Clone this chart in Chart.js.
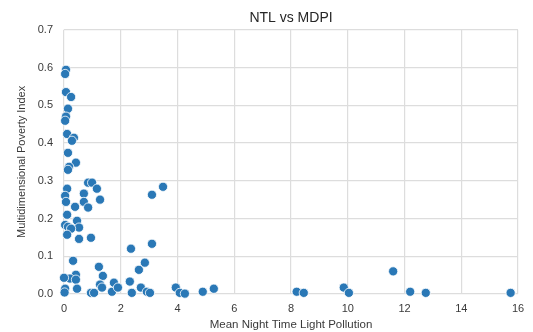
<!DOCTYPE html>
<html>
<head>
<meta charset="utf-8">
<script src="https://cdn.jsdelivr.net/npm/chart.js@4.4.1/dist/chart.umd.min.js"></script>
<style>
  html, body { margin: 0; padding: 0; background: #fff; }
  #wrap { width: 533px; height: 332px; }
</style>
</head>
<body>
<div id="wrap"><canvas id="ntlChart"></canvas></div>
<script>
// Mean night time light pollution (x) per district
const ntl = [
    0.07, 0.04, 0.07, 0.25, 0.14, 0.07, 0.04, 0.11, 0.35, 0.28,
    0.14, 0.42, 0.18, 0.14, 0.85, 0.99, 1.16, 0.11, 0.70, 0.04,
    1.27, 0.07, 0.70, 0.39, 0.85, 0.11, 0.46, 0.04, 0.14, 0.53,
    0.25, 0.11, 0.53, 0.95, 3.49, 3.10, 3.10, 2.36, 0.32, 1.23,
    2.85, 2.64, 0.42, 1.37, 0.21, 0.42, 0.00, 0.04, 0.46, 1.27,
    1.34, 1.69, 0.95, 1.06, 1.76, 2.32, 1.90, 2.71, 2.92, 3.03,
    2.39, 3.94, 4.08, 4.26, 4.89, 5.28, 8.20, 8.45, 9.86, 10.04,
    11.60, 12.20, 12.75, 15.74, 0.02
];
// Multidimensional poverty index (y)
const mpi = [
    0.594, 0.583, 0.535, 0.522, 0.491, 0.470, 0.459, 0.424, 0.414, 0.406,
    0.374, 0.348, 0.337, 0.329, 0.295, 0.295, 0.279, 0.279, 0.266, 0.260,
    0.250, 0.244, 0.244, 0.231, 0.229, 0.210, 0.194, 0.183, 0.178, 0.176,
    0.173, 0.157, 0.146, 0.149, 0.284, 0.263, 0.133, 0.120, 0.088, 0.072,
    0.083, 0.064, 0.051, 0.048, 0.041, 0.038, 0.043, 0.014, 0.014, 0.025,
    0.017, 0.006, 0.003, 0.003, 0.030, 0.033, 0.017, 0.017, 0.006, 0.003,
    0.003, 0.017, 0.003, 0.001, 0.006, 0.014, 0.006, 0.003, 0.017, 0.003,
    0.060, 0.006, 0.003, 0.003, 0.004
];

const xTicks = [0, 2, 4, 6, 8, 10, 12, 14, 16];
const yTicks = [0.0, 0.1, 0.2, 0.3, 0.4, 0.5, 0.6, 0.7];

const points = ntl.map(function(x, i) { return { x: x, y: mpi[i] }; });

Chart.defaults.font.family = '"Liberation Sans", Arial, sans-serif';
Chart.defaults.color = '#3a3a3a';

const ctx = document.getElementById('ntlChart').getContext('2d');
new Chart(ctx, {
    type: 'scatter',
    data: {
        datasets: [{
            label: 'MDPI',
            data: points,
            backgroundColor: '#2a78b6',
            borderColor: '#ffffff',
            borderWidth: 0.8,
            pointRadius: 4.6,
            pointHoverRadius: 4.6,
            clip: false
        }]
    },
    options: {
        responsive: true,
        maintainAspectRatio: false,
        animation: false,
        layout: {
            padding: { left: 15, right: 15, top: 0, bottom: 0 }
        },
        scales: {
            x: {
                type: 'linear',
                min: xTicks[0],
                max: xTicks[xTicks.length - 1],
                afterBuildTicks: function(axis) {
                    axis.ticks = xTicks.map(function(v) { return { value: v }; });
                },
                afterFit: function(axis) { axis.height = 38; },
                grid: { color: '#dddddd', lineWidth: 1.2, drawTicks: false },
                border: { display: false },
                ticks: {
                    padding: 8,
                    font: { size: 11 },
                    callback: function(v) { return String(v); }
                },
                title: {
                    display: true,
                    text: 'Mean Night Time Light Pollution',
                    font: { size: 11.5 },
                    padding: { top: 0, bottom: 0 }
                }
            },
            y: {
                type: 'linear',
                min: yTicks[0],
                max: yTicks[yTicks.length - 1],
                afterBuildTicks: function(axis) {
                    axis.ticks = yTicks.map(function(v) { return { value: v }; });
                },
                afterFit: function(axis) { axis.width = 49; },
                grid: { color: '#dddddd', lineWidth: 1.2, drawTicks: false },
                border: { display: false },
                ticks: {
                    padding: 11,
                    font: { size: 11 },
                    callback: function(v) { return v.toFixed(1); }
                },
                title: {
                    display: true,
                    text: 'Multidimensional Poverty Index',
                    font: { size: 11 },
                    padding: { top: 0, bottom: 0 }
                }
            }
        },
        plugins: {
            legend: { display: false },
            tooltip: { enabled: false },
            title: {
                display: true,
                text: 'NTL vs MDPI',
                fullSize: false,
                color: '#262626',
                font: { size: 14, weight: 'normal' },
                padding: { top: 10, bottom: 3 }
            }
        }
    }
});
</script>
</body>
</html>
